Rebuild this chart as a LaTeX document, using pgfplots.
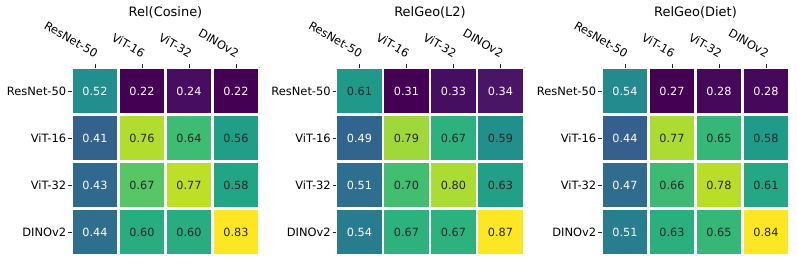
\documentclass[border=0pt]{standalone}
\usepackage{pgfplots}
\pgfplotsset{compat=1.18}
\usepackage{pgfplotstable}
\usepackage{fontspec}
\setmainfont{DejaVu Sans}
\definecolor{txtdark}{HTML}{262626}

\pgfplotstableread{
x y v w
0 0 0.52 1
1 0 0.22 1
2 0 0.24 1
3 0 0.22 1
0 1 0.41 1
1 1 0.76 0
2 1 0.64 0
3 1 0.56 0
0 2 0.43 1
1 2 0.67 0
2 2 0.77 0
3 2 0.58 0
0 3 0.44 1
1 3 0.60 0
2 3 0.60 0
3 3 0.83 0
}\dataA

\pgfplotstableread{
x y v w
0 0 0.61 0
1 0 0.31 1
2 0 0.33 1
3 0 0.34 1
0 1 0.49 1
1 1 0.79 0
2 1 0.67 0
3 1 0.59 0
0 2 0.51 1
1 2 0.70 0
2 2 0.80 0
3 2 0.63 0
0 3 0.54 1
1 3 0.67 0
2 3 0.67 0
3 3 0.87 0
}\dataB

\pgfplotstableread{
x y v w
0 0 0.54 1
1 0 0.27 1
2 0 0.28 1
3 0 0.28 1
0 1 0.44 1
1 1 0.77 0
2 1 0.65 0
3 1 0.58 0
0 2 0.47 1
1 2 0.66 0
2 2 0.78 0
3 2 0.61 0
0 3 0.51 1
1 3 0.63 0
2 3 0.65 0
3 3 0.84 0
}\dataC

\pgfplotsset{
  hm/.style={
    scale only axis, width=188bp, height=188bp,
    anchor=south west,
    xmin=-0.5, xmax=3.5, ymin=-0.5, ymax=3.5,
    y dir=reverse,
    enlargelimits=false,
    axis line style={draw=none},
    xtick={0,1,2,3}, ytick={0,1,2,3},
    xticklabels={ResNet-50,ViT-16,ViT-32,DINOv2},
    yticklabels={ResNet-50,ViT-16,ViT-32,DINOv2},
    xtick pos=right, xticklabel pos=right,
    ytick pos=left, yticklabel pos=left,
    tick align=outside,
    major tick length=3.5bp,
    major tick style={txtdark, line width=0.8bp},
    minor xtick={-0.5,0.5,1.5,2.5,3.5},
    minor ytick={-0.5,0.5,1.5,2.5,3.5},
    minor tick length=0pt,
    xminorgrids=true, yminorgrids=true,
    minor grid style={white, line width=2.5bp},
    axis on top,
    colormap/viridis,
    ticklabel style={font=\fontsize{11.5}{13.5}\selectfont, text=black},
    xticklabel shift=4.5bp,
    xticklabel style={rotate=-30, anchor=south east, inner sep=1bp},
    yticklabel style={inner sep=1.6bp},
    title style={at={(0.5,1)}, anchor=base, yshift=45bp, font=\fontsize{13}{15}\selectfont},
  },
  txtw/.style={only marks, mark=none, point meta=explicit symbolic,
    nodes near coords, nodes near coords align=center,
    x filter/.expression={\thisrow{w}>0.5 ? x : nan},
    every node near coord/.append style={anchor=center, text=white, font=\fontsize{11.3}{13}\selectfont}},
  txtd/.style={only marks, mark=none, point meta=explicit symbolic,
    nodes near coords, nodes near coords align=center,
    x filter/.expression={\thisrow{w}<0.5 ? x : nan},
    every node near coord/.append style={anchor=center, text=txtdark, font=\fontsize{11.3}{13}\selectfont}},
}

\begin{document}
\begin{tikzpicture}
\useasboundingbox (0,0) rectangle (797bp,263bp);
\begin{axis}[hm, at={(71.5bp,7.5bp)}, title={Rel(Cosine)}, point meta min=0.22, point meta max=0.83]
\addplot[matrix plot*, mesh/cols=4, point meta=explicit] table[x=x,y=y,meta=v]{\dataA};
\addplot[txtw] table[x=x,y=y,meta=v]{\dataA};
\addplot[txtd] table[x=x,y=y,meta=v]{\dataA};
\end{axis}
\begin{axis}[hm, at={(336bp,7.5bp)}, title={RelGeo(L2)}, point meta min=0.31, point meta max=0.87]
\addplot[matrix plot*, mesh/cols=4, point meta=explicit] table[x=x,y=y,meta=v]{\dataB};
\addplot[txtw] table[x=x,y=y,meta=v]{\dataB};
\addplot[txtd] table[x=x,y=y,meta=v]{\dataB};
\end{axis}
\begin{axis}[hm, at={(601.5bp,7.5bp)}, title={RelGeo(Diet)}, point meta min=0.27, point meta max=0.84]
\addplot[matrix plot*, mesh/cols=4, point meta=explicit] table[x=x,y=y,meta=v]{\dataC};
\addplot[txtw] table[x=x,y=y,meta=v]{\dataC};
\addplot[txtd] table[x=x,y=y,meta=v]{\dataC};
\end{axis}
\end{tikzpicture}
\end{document}
